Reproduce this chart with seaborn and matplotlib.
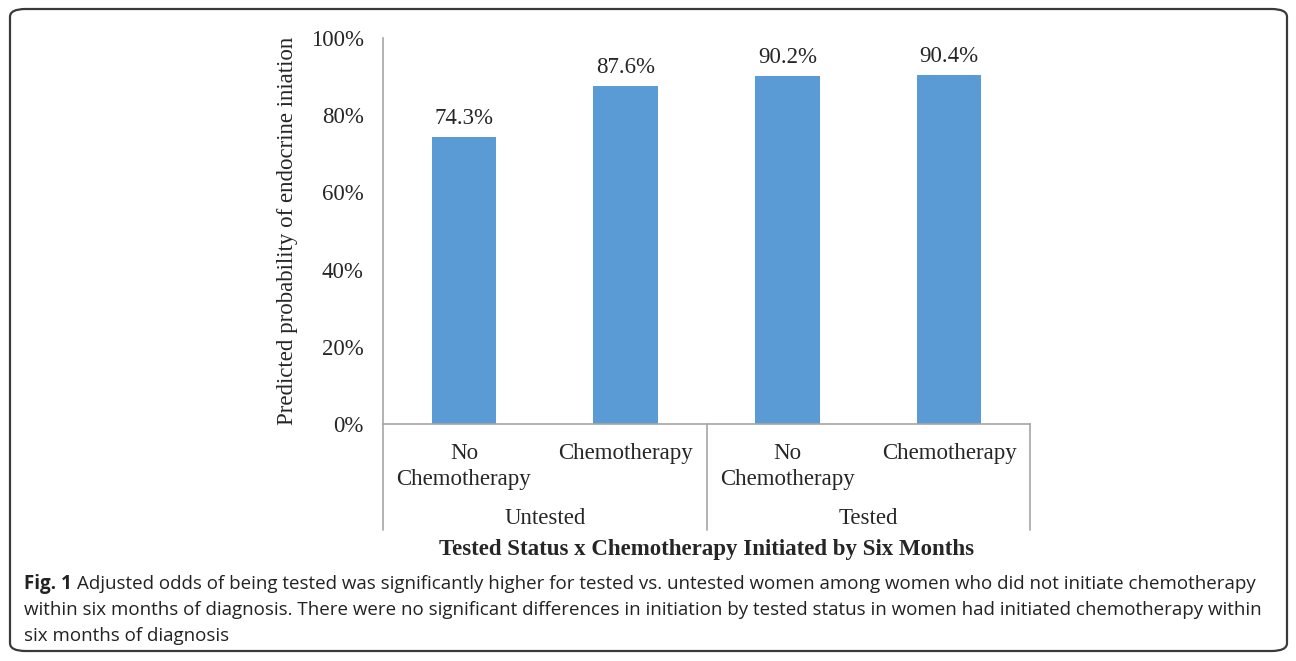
import matplotlib
matplotlib.use("Agg")
import matplotlib.pyplot as plt
from matplotlib import patches
import pandas as pd
import seaborn as sns

# data
groups = ["Untested", "Untested", "Tested", "Tested"]
chemo = ["No\nChemotherapy", "Chemotherapy", "No\nChemotherapy", "Chemotherapy"]
probability = [74.3, 87.6, 90.2, 90.4]
y_ticks = [0, 20, 40, 60, 80, 100]
group_names = ["Untested", "Tested"]

caption_bold = "Fig. 1"
caption_lines = [
    "Adjusted odds of being tested was significantly higher for tested vs. untested women among women who did not initiate chemotherapy",
    "within six months of diagnosis. There were no significant differences in initiation by tested status in women had initiated chemotherapy within",
    "six months of diagnosis",
]

W, H = 1296, 661
FS = 16.5
sns.set_style("white")
plt.rcParams["font.family"] = ["Liberation Serif", "DejaVu Serif"]

fig = plt.figure(figsize=(W / 100, H / 100), dpi=100)

# outer rounded frame
frame = patches.FancyBboxPatch(
    (10 / W, 1 - 651 / H), 1277 / W, 642 / H,
    boxstyle="round,pad=0,rounding_size=0.012",
    transform=fig.transFigure, facecolor="none", edgecolor="#3a3a3a", lw=1.6,
)
fig.patches.append(frame)

left, right, top, bottom = 383, 1030, 38, 424
ax = fig.add_axes([left / W, 1 - bottom / H, (right - left) / W, (bottom - top) / H])

df = pd.DataFrame({
    "slot": [f"{g} {c}" for g, c in zip(groups, chemo)],
    "prob": probability,
})
sns.barplot(data=df, x="slot", y="prob", color="#5B9BD5", saturation=1,
            width=0.4, ax=ax, edgecolor="none")

ax.set_ylim(0, 100)
ax.set_xlim(-0.5, len(df) - 0.5)
ax.set_yticks(y_ticks)
ax.set_yticklabels([f"{t}%" for t in y_ticks], fontsize=FS)
ax.tick_params(axis="y", length=0, pad=14)
ax.set_xticks([])
ax.set_xlabel("")
ax.set_ylabel("Predicted probability of endocrine iniation", fontsize=FS)
ax.yaxis.set_label_coords(-(left - 298) / (right - left), 0.5)

for s in ["top", "right"]:
    ax.spines[s].set_visible(False)
for s in ["left", "bottom"]:
    ax.spines[s].set_color("#a6a6a6")
    ax.spines[s].set_linewidth(1.2)

for i, v in enumerate(probability):
    ax.text(i, v + 2.0, f"{v:.1f}%", ha="center", va="bottom", fontsize=FS)

# category axis built in data x / axes y coordinates
trans = ax.get_xaxis_transform()
px = 1 / (bottom - top)
for xb in [-0.5, 1.5, 3.5]:
    ax.plot([xb, xb], [0, -(530 - bottom) * px], transform=trans,
            color="#a6a6a6", lw=1.2, clip_on=False)
for i, c in enumerate(chemo):
    ax.text(i, -(443 - bottom) * px, c, transform=trans, ha="center", va="top",
            fontsize=FS, linespacing=1.3)
for j, g in enumerate(group_names):
    ax.text(2 * j + 0.5, -(519 - bottom) * px, g, transform=trans,
            ha="center", va="center", fontsize=FS)
ax.text(1.5, -(549 - bottom) * px, "Tested Status x Chemotherapy Initiated by Six Months",
        transform=trans, ha="center", va="center", fontsize=FS, fontweight="bold")

# caption
cap_font = ["Open Sans", "DejaVu Sans"]
cap_fs = 13.5
x0 = 24 / W
t_bold = fig.text(x0, 1 - 584 / H, caption_bold, fontsize=cap_fs, fontweight="bold",
                  family=cap_font, va="center", color="#222222")
fig.canvas.draw()
bb = t_bold.get_window_extent()
fig.text(bb.x1 / W + 5 / W, 1 - 584 / H, caption_lines[0], fontsize=cap_fs,
         family=cap_font, va="center", color="#222222")
for k, line in enumerate(caption_lines[1:]):
    fig.text(x0, 1 - (610 + 26 * k) / H, line, fontsize=cap_fs,
             family=cap_font, va="center", color="#222222")

fig.savefig("out.png", dpi=100)
